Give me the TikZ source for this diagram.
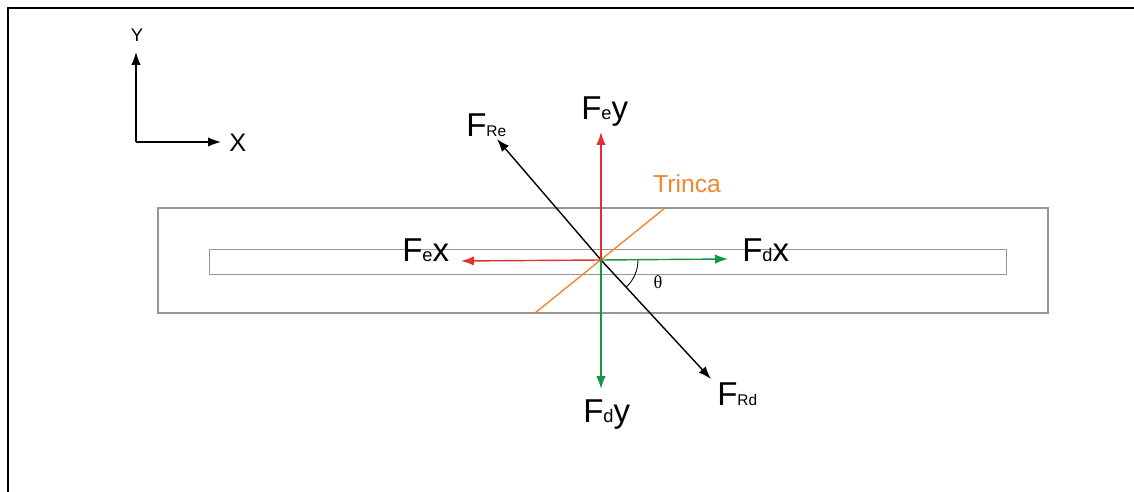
\documentclass[tikz,border=0pt]{standalone}
\usepackage{fontspec}
\setmainfont{Liberation Sans}
\newfontfamily\thetafont{Liberation Serif}
\usetikzlibrary{arrows.meta}
\definecolor{forcered}{RGB}{228,48,48}
\definecolor{forcegreen}{RGB}{20,150,70}
\definecolor{crackorange}{RGB}{242,135,45}
\definecolor{plategray}{RGB}{150,150,150}
\newcommand{\sub}[1]{{\fontsize{13}{14}\selectfont #1}}
\newcommand{\rsub}[1]{{\fontsize{11}{12}\selectfont #1}}
\begin{document}
\begin{tikzpicture}[
    x=0.025cm, y=-0.025cm,
    tip/.style={-{Latex[length=3.2mm,width=2.3mm]}, line width=1pt},
    redforce/.style={tip, forcered},
    greenforce/.style={tip, forcegreen},
    blackforce/.style={tip, black},
    plate/.style={draw, plategray, line width=0.9pt},
    flabel/.style={anchor=base west, inner sep=0pt, font=\fontsize{23.5}{26}\selectfont},
]
    \useasboundingbox (0,0) rectangle (1134,492);
    % frame
    \draw[line width=2pt] (8,492) -- (8,8) -- (1134,8);
    % axes
    \coordinate (orig) at (136,142);
    \coordinate (ytip) at (136,52);
    \coordinate (xtip) at (221,142);
    \draw[blackforce, line width=0.9pt] (orig) -- (ytip);
    \draw[blackforce, line width=0.9pt] (orig) -- (xtip);
    \node[anchor=base, inner sep=0pt, font=\fontsize{13}{14}\selectfont] (ylab) at (137,42) {Y};
    \node[anchor=base west, inner sep=0pt, font=\fontsize{18}{20}\selectfont] (xlab) at (229,152) {X};
    % plate and slot
    \draw[plate] (158,208) rectangle (1048,313);
    \draw[plate, line width=0.7pt] (209,249) rectangle (1006,274);
    % crack
    \coordinate (O) at (601,260);
    \coordinate (crackA) at (535,313);
    \coordinate (crackB) at (665,208);
    \draw[crackorange, line width=1pt] (crackA) -- (crackB);
    \node[anchor=base west, inner sep=0pt, text=crackorange, font=\fontsize{17.5}{19}\selectfont] (trinca) at (653,193) {Trinca};
    % force tips
    \coordinate (FeyTip) at (601,132);
    \coordinate (FexTip) at (461,261);
    \coordinate (FdxTip) at (728,259);
    \coordinate (FdyTip) at (601,389);
    \coordinate (FReTip) at (497,139);
    \coordinate (FRdTip) at (711,379);
    % forces
    \draw[blackforce] (O) -- (FReTip);
    \draw[blackforce] (O) -- (FRdTip);
    \draw[redforce] (O) -- (FeyTip);
    \draw[redforce] (O) -- (FexTip);
    \draw[greenforce] (O) -- (FdxTip);
    \draw[greenforce] (O) -- (FdyTip);
    % angle
    \draw[line width=0.6pt] (O) ++(37,0) arc[start angle=0, end angle=47, radius=37];
    \node[inner sep=0pt, font=\thetafont\fontsize{13}{14}\selectfont] (theta) at (658,282) {θ};
    % labels
    \node[flabel] (Fey) at (581,120) {F\sub{e}y};
    \node[flabel] (Fex) at (402,262) {F\sub{e}x};
    \node[flabel] (Fdx) at (742,262) {F\sub{d}x};
    \node[flabel] (Fdy) at (583,423) {F\sub{d}y};
    \node[flabel] (FRe) at (466,137) {F\rsub{Re}};
    \node[flabel] (FRd) at (717,405) {F\rsub{Rd}};
\end{tikzpicture}
\end{document}
